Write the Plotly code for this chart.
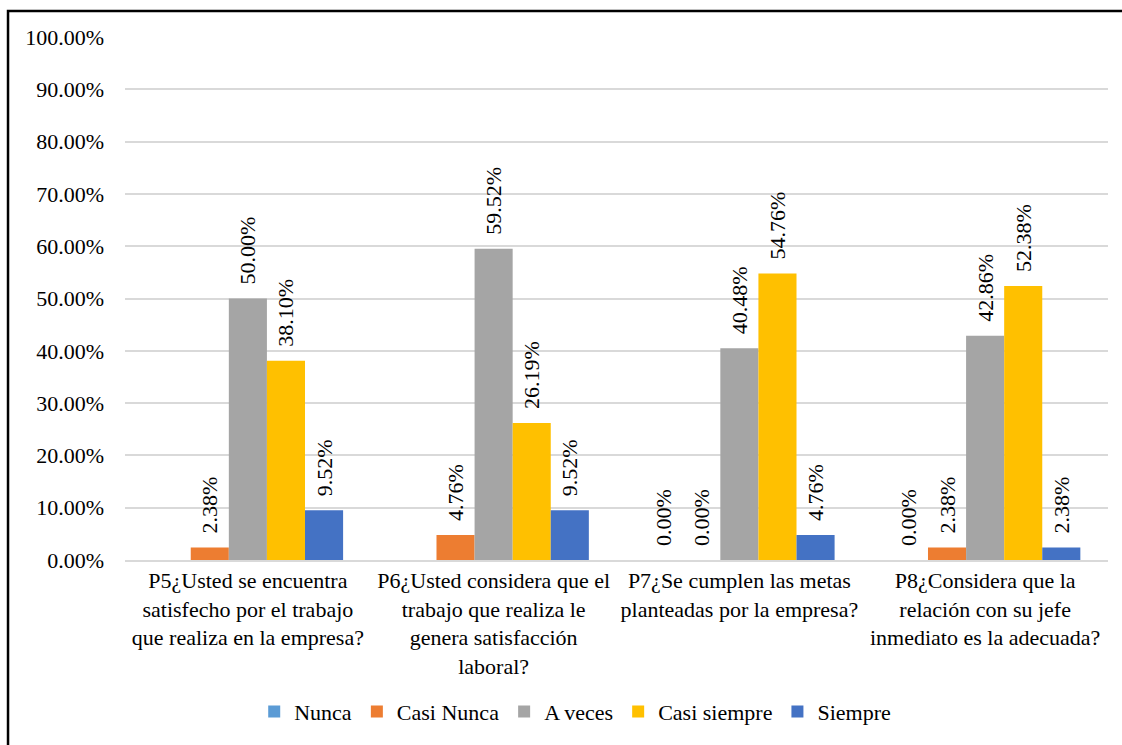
import plotly.graph_objects as go

categories = [
    "P5¿Usted se encuentra<br>satisfecho por el trabajo<br>que realiza en la empresa?",
    "P6¿Usted considera que el<br>trabajo que realiza le<br>genera satisfacción<br>laboral?",
    "P7¿Se cumplen las metas<br>planteadas por la empresa?",
    "P8¿Considera que la<br>relación con su jefe<br>inmediato es la adecuada?",
]
series_names = ["Nunca", "Casi Nunca", "A veces", "Casi siempre", "Siempre"]
nunca = [None, None, 0.0, 0.0]
casi_nunca = [0.0238, 0.0476, 0.0, 0.0238]
a_veces = [0.50, 0.5952, 0.4048, 0.4286]
casi_siempre = [0.3810, 0.2619, 0.5476, 0.5238]
siempre = [0.0952, 0.0952, 0.0476, 0.0238]
series_values = [nunca, casi_nunca, a_veces, casi_siempre, siempre]
colors = ["#5B9BD5", "#ED7D31", "#A5A5A5", "#FFC000", "#4472C4"]

FONT = "Liberation Serif"
FS = 22

fig = go.Figure()
for name, vals, col in zip(series_names, series_values, colors):
    fig.add_trace(go.Bar(
        name=name, x=categories, y=vals, marker_color=col,
        marker_line_width=0,
        text=[None if v is None else "\u00a0\u00a0" + f"{v*100:.2f}%" for v in vals],
        textposition="outside", textangle=-90, cliponaxis=False,
        constraintext="none",
        textfont=dict(family=FONT, size=FS, color="black"),
    ))

fig.update_layout(
    width=1122, height=745,
    barmode="group", bargap=0.225, bargroupgap=0,
    paper_bgcolor="white", plot_bgcolor="white",
    margin=dict(l=125, r=14, t=37, b=183),
    font=dict(family=FONT, size=FS, color="black"),
    showlegend=True,
    legend=dict(orientation="h", x=0.458, xanchor="center", y=-0.29, yanchor="middle",
                font=dict(family=FONT, size=FS), itemwidth=30, tracegroupgap=0),
    yaxis=dict(range=[0, 1], dtick=0.1, tickformat=".2%", showgrid=True,
               gridcolor="#D9D9D9", gridwidth=1.5, zeroline=False, showline=False,
               ticklabelstandoff=20, tickfont=dict(family=FONT, size=FS)),
    xaxis=dict(showline=True, linecolor="#D9D9D9", linewidth=1.5, showgrid=False,
               tickfont=dict(family=FONT, size=FS), ticks=""),
    shapes=[
        dict(type="rect", xref="paper", yref="paper", x0=-0.119, x1=1.2, y0=-0.6, y1=1.0495,
             line=dict(color="black", width=2.5), fillcolor="rgba(0,0,0,0)", layer="below"),
    ],
)

fig.write_html("out.html")
